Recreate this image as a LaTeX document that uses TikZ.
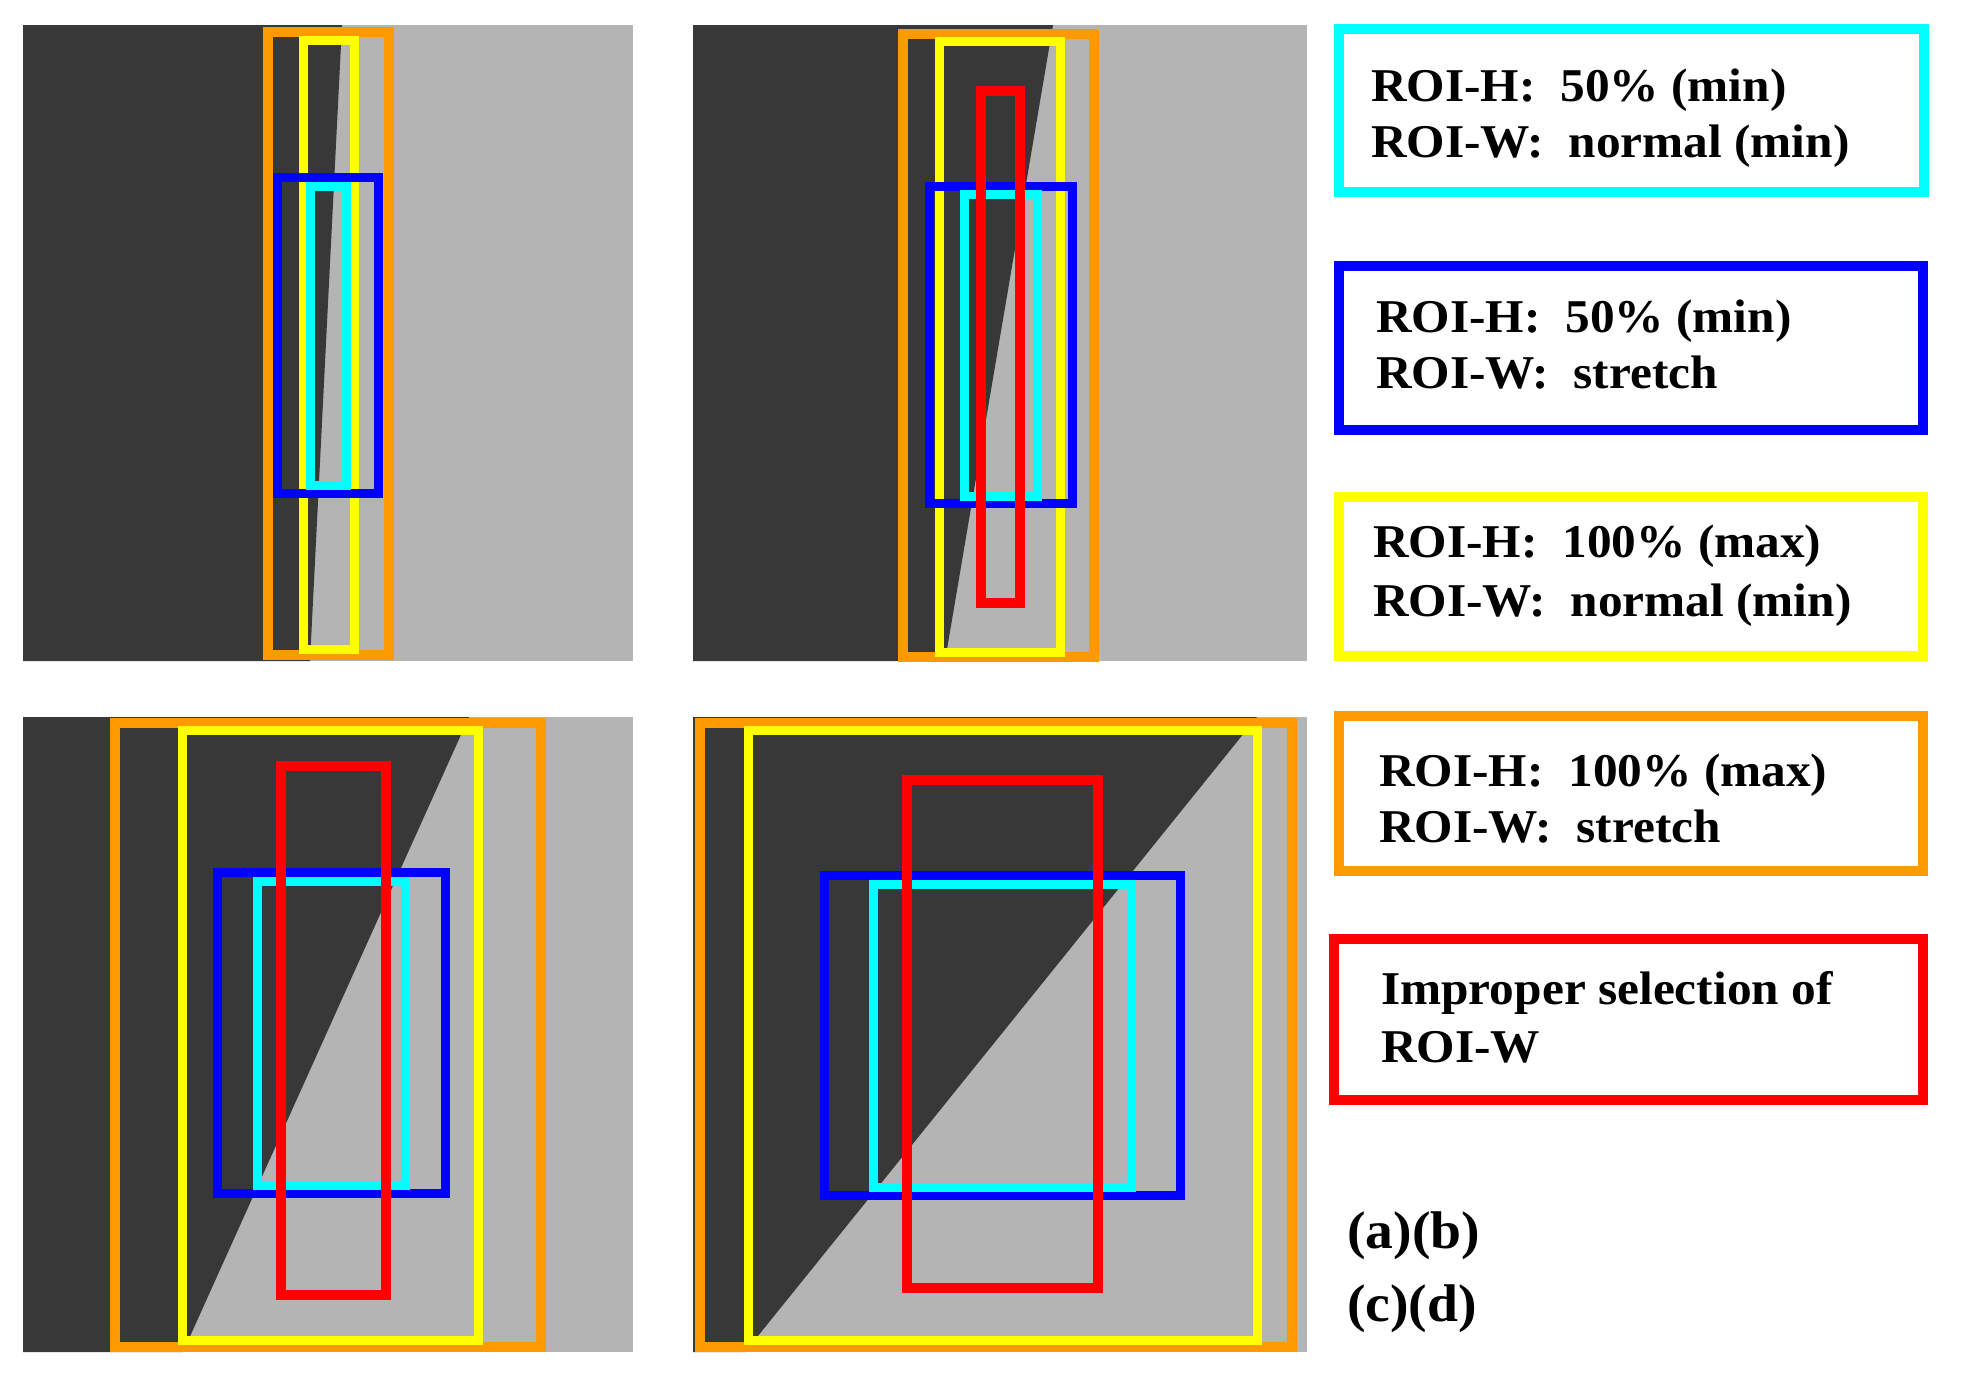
\documentclass[tikz,border=0pt]{standalone}
\usepackage{fontspec}
\setmainfont{Liberation Serif}
\usepackage{graphicx}
\definecolor{dkgray}{RGB}{56,56,56}
\definecolor{ltgray}{RGB}{180,180,180}
\definecolor{roiorange}{RGB}{255,153,0}
\definecolor{roiyellow}{RGB}{255,255,0}
\definecolor{roiblue}{RGB}{0,0,255}
\definecolor{roicyan}{RGB}{0,255,255}
\definecolor{roired}{RGB}{255,0,0}
\tikzset{
  orangebox/.style={draw=roiorange,line width=10pt},
  yellowbox/.style={draw=roiyellow,line width=9pt},
  bluebox/.style={draw=roiblue,line width=9pt},
  cyanbox/.style={draw=roicyan,line width=9pt},
  redbox/.style={draw=roired,line width=10pt},
  legbox/.style={line width=10pt},
  lbl/.style={anchor=base west,inner sep=0pt,font=\fontsize{47}{56}\selectfont\bfseries},
  sublbl/.style={anchor=base west,inner sep=0pt,font=\fontsize{53}{60}\selectfont\bfseries},
}
\newcommand{\widetxt}[1]{\scalebox{1.05}[1]{#1}}
\begin{document}
\begin{tikzpicture}[x=1pt,y=-1pt]
\useasboundingbox (0,0) rectangle (1961,1385);
% ---------- panel (a)
\fill[ltgray] (23,25) rectangle (633,661);
\fill[dkgray] (23,25) -- (342,25) -- (310,661) -- (23,661) -- cycle;
\draw[orangebox] (268,32) rectangle (389,655);
\draw[yellowbox] (303,40) rectangle (354,649);
\draw[bluebox] (277,177) rectangle (378,493);
\draw[cyanbox] (310,186) rectangle (346,485);
% ---------- panel (b)
\fill[ltgray] (693,25) rectangle (1307,661);
\fill[dkgray] (693,25) -- (1053,25) -- (945,661) -- (693,661) -- cycle;
\draw[orangebox] (903,34) rectangle (1094,657);
\draw[yellowbox] (939,41) rectangle (1060,652);
\draw[bluebox] (929,186) rectangle (1072,503);
\draw[cyanbox] (964,194) rectangle (1037,496);
\draw[redbox] (981,91) rectangle (1020,603);
% ---------- panel (c)
\fill[ltgray] (23,717) rectangle (633,1352);
\fill[dkgray] (23,717) -- (469,717) -- (183,1352) -- (23,1352) -- cycle;
\draw[orangebox] (115,723) rectangle (541,1347);
\draw[yellowbox] (182,730) rectangle (478,1340);
\draw[bluebox] (217,872) rectangle (445,1193);
\draw[cyanbox] (257,881) rectangle (405,1185);
\draw[redbox] (281,766) rectangle (386,1295);
% ---------- panel (d)
\fill[ltgray] (693,717) rectangle (1307,1352);
\fill[dkgray] (693,717) -- (1257,717) -- (745,1352) -- (693,1352) -- cycle;
\draw[orangebox] (700,723) rectangle (1292,1347);
\draw[yellowbox] (748,730) rectangle (1257,1340);
\draw[bluebox] (824,875) rectangle (1180,1195);
\draw[cyanbox] (873,884) rectangle (1131,1187);
\draw[redbox] (907,780) rectangle (1098,1288);
% ---------- legend
\draw[legbox,draw=roicyan] (1339,29) rectangle (1924,192);
\node[lbl] (c1) at (1371,101) {\widetxt{ROI-H:\ \ 50\% (min)}};
\node[lbl] (c2) at (1371,157) {\widetxt{ROI-W:\ \ normal (min)}};
\draw[legbox,draw=roiblue] (1339,266) rectangle (1923,430);
\node[lbl] (b1) at (1376,332) {\widetxt{ROI-H:\ \ 50\% (min)}};
\node[lbl] (b2) at (1376,388) {\widetxt{ROI-W:\ \ stretch}};
\draw[legbox,draw=roiyellow] (1339,497) rectangle (1923,656);
\node[lbl] (y1) at (1373,557) {\widetxt{ROI-H:\ \ 100\% (max)}};
\node[lbl] (y2) at (1373,616) {\widetxt{ROI-W:\ \ normal (min)}};
\draw[legbox,draw=roiorange] (1339,716) rectangle (1923,871);
\node[lbl] (o1) at (1379,786) {\widetxt{ROI-H:\ \ 100\% (max)}};
\node[lbl] (o2) at (1379,842) {\widetxt{ROI-W:\ \ stretch}};
\draw[legbox,draw=roired] (1334,939) rectangle (1923,1100);
\node[lbl] (r1) at (1381,1004) {\widetxt{Improper selection of}};
\node[lbl] (r2) at (1381,1062) {\widetxt{ROI-W}};
\node[sublbl] (ab) at (1347,1248) {\widetxt{(a)(b)}};
\node[sublbl] (cd) at (1347,1321) {\widetxt{(c)(d)}};
\end{tikzpicture}
\end{document}
